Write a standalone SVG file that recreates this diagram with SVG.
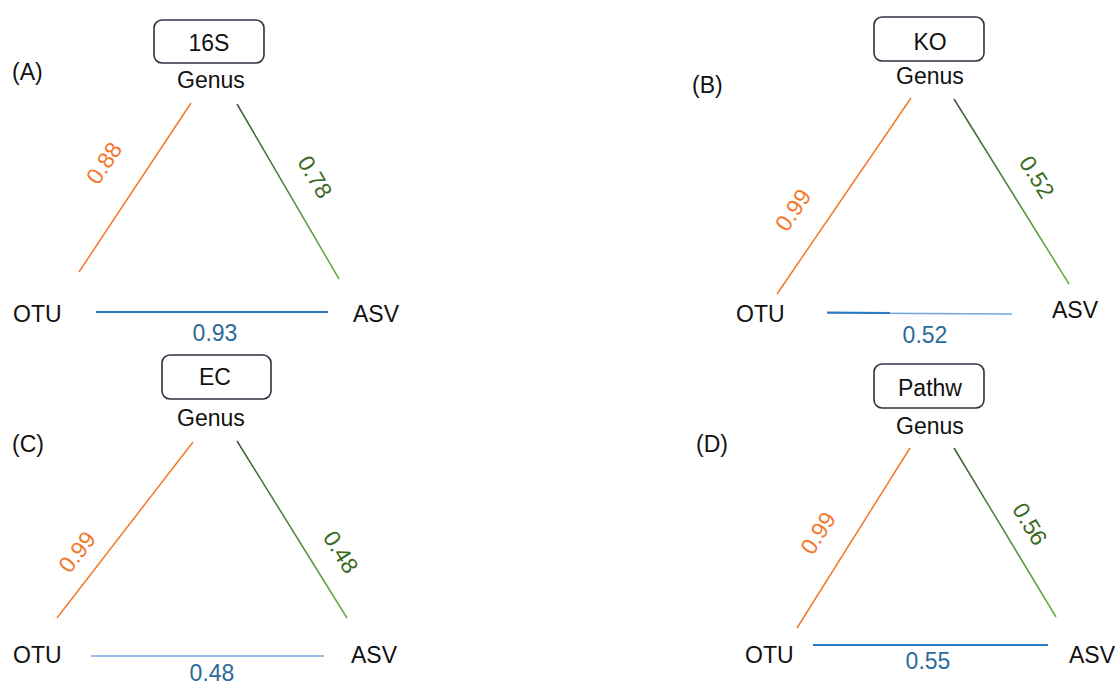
<svg xmlns="http://www.w3.org/2000/svg" width="1115" height="686" viewBox="0 0 1115 686">
<style>
text{font-family:"Liberation Sans",Arial,sans-serif;font-size:23px;fill:#111}
.box{fill:#fff;stroke:#2b3440;stroke-width:1.6}
.or{stroke:#f4782c;stroke-width:1.5;fill:none}
.gr{stroke:url(#gg);stroke-width:1.5;fill:none}
.bl{stroke:#2f78c4;stroke-width:1.8;fill:none}
.blt{stroke:#6fa8dc;stroke-width:1.5;fill:none}
.to{fill:#f4782c}
.tg{fill:#3b6a22}
.tb{fill:#2c6a9c}
.c{text-anchor:middle}
.r{text-anchor:middle;dominant-baseline:central}
</style>
<defs>
<linearGradient id="gg" x1="0" y1="0" x2="0" y2="1">
<stop offset="0" stop-color="#3a5a34"/>
<stop offset="1" stop-color="#5eb43e"/>
</linearGradient>
</defs>
<rect width="1115" height="686" fill="#fff"/>

<g id="connectors">
<line class="or" x1="191" y1="103" x2="79" y2="272"/>
<line class="gr" x1="237" y1="104" x2="339" y2="279"/>
<line class="bl" x1="96" y1="312" x2="328" y2="312"/>

<line class="or" x1="911" y1="98" x2="777" y2="294"/>
<line class="gr" x1="954" y1="99" x2="1069" y2="284"/>
<line class="blt" x1="827" y1="313" x2="1012" y2="314"/>
<line class="bl" x1="827" y1="312.5" x2="890" y2="313"/>

<line class="or" x1="193" y1="442" x2="57" y2="618"/>
<line class="gr" x1="237" y1="441" x2="347" y2="618"/>
<line class="blt" x1="91" y1="656" x2="324" y2="656"/>

<line class="or" x1="910" y1="448" x2="797" y2="628"/>
<line class="gr" x1="954" y1="448" x2="1056" y2="617"/>
<line class="bl" x1="813" y1="645" x2="1048" y2="645"/>
</g>

<g id="panelA">
<text x="12" y="80">(A)</text>
<g id="box16S"><rect class="box" x="154" y="20" width="110" height="43" rx="8"/><text class="c" x="209" y="51">16S</text></g>
<g id="genusA"><text class="c" x="211" y="88">Genus</text></g>
<g id="otuA"><text x="13" y="322">OTU</text></g>
<g id="asvA"><text x="353" y="322">ASV</text></g>
<text class="r to" transform="translate(104,163) rotate(-56.5)">0.88</text>
<text class="r tg" transform="translate(315,177) rotate(59.5)">0.78</text>
<text class="c tb" x="215" y="341">0.93</text>
</g>

<g id="panelB">
<text x="692" y="93">(B)</text>
<g id="boxKO"><rect class="box" x="874" y="17" width="110" height="44" rx="8"/><text class="c" x="930" y="50">KO</text></g>
<g id="genusB"><text class="c" x="930" y="84">Genus</text></g>
<g id="otuB"><text x="736" y="322">OTU</text></g>
<g id="asvB"><text x="1052" y="318">ASV</text></g>
<text class="r to" transform="translate(793,210) rotate(-55.5)">0.99</text>
<text class="r tg" transform="translate(1037,177) rotate(58)">0.52</text>
<text class="c tb" x="925" y="343">0.52</text>
</g>

<g id="panelC">
<text x="12" y="452">(C)</text>
<g id="boxEC"><rect class="box" x="162" y="355" width="109" height="44" rx="8"/><text class="c" x="215" y="385">EC</text></g>
<g id="genusC"><text class="c" x="211" y="426">Genus</text></g>
<g id="otuC"><text x="13" y="663">OTU</text></g>
<g id="asvC"><text x="351" y="663">ASV</text></g>
<text class="r to" transform="translate(77,552) rotate(-52.5)">0.99</text>
<text class="r tg" transform="translate(341,552) rotate(58)">0.48</text>
<text class="c tb" x="212" y="681">0.48</text>
</g>

<g id="panelD">
<text x="696" y="452">(D)</text>
<g id="boxPathw"><rect class="box" x="874" y="364" width="110" height="44" rx="8"/><text class="c" x="930" y="396">Pathw</text></g>
<g id="genusD"><text class="c" x="930" y="434">Genus</text></g>
<g id="otuD"><text x="745" y="663">OTU</text></g>
<g id="asvD"><text x="1069" y="663">ASV</text></g>
<text class="r to" transform="translate(818,533) rotate(-57.5)">0.99</text>
<text class="r tg" transform="translate(1030,524) rotate(59)">0.56</text>
<text class="c tb" x="928" y="669">0.55</text>
</g>
</svg>
